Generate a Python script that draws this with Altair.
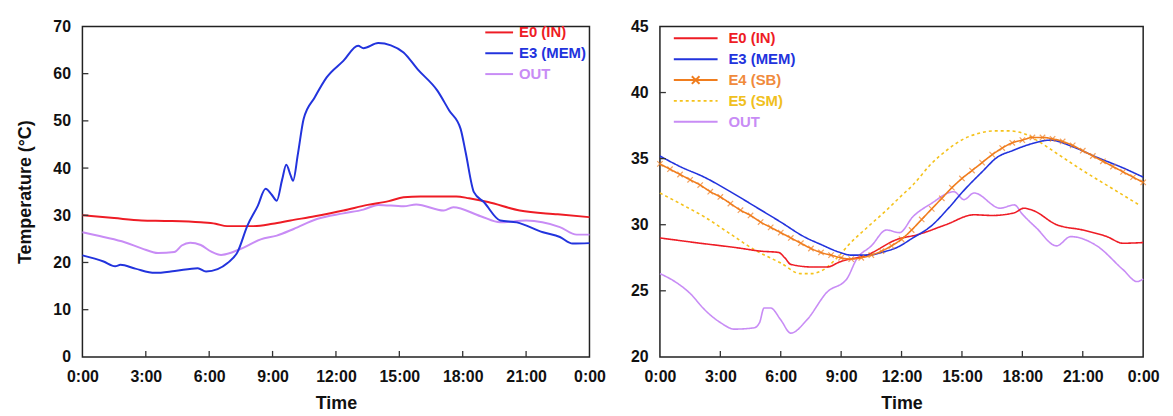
import altair as alt
import pandas as pd

FONT = "Liberation Sans"

# ---------------- left panel data (hours, temperature) ----------------
L_IN_H = [0, 1.5, 2.8, 4, 5.6, 6.3, 6.85, 8.1, 9, 9.85, 11, 12.35, 13.5, 14.5, 15.2, 16, 17.7, 18.3, 19.2, 20.7, 22.5, 24]
L_IN_T = [30.0, 29.4, 28.9, 28.8, 28.5, 28.2, 27.7, 27.7, 28.2, 28.9, 29.8, 31.0, 32.2, 33.0, 33.8, 34.0, 34.0, 33.6, 32.8, 31.0, 30.2, 29.6]

L_MEM_H = [0, 1, 1.55, 1.8, 2.5, 3.43, 4.37, 5.46, 5.85, 6.4, 6.87, 7.34, 7.81, 8.3, 8.67, 8.95, 9.2, 9.45, 9.65, 9.85,
           9.97, 10.2, 10.47, 11.0, 11.56, 12.35, 13.05, 13.3, 14.0, 14.6, 15.2, 15.87, 16.8, 17.36, 17.9, 18.14, 18.53,
           19.0, 19.78, 20.56, 21.8, 22.6, 23.2, 24]
L_MEM_T = [21.5, 20.2, 19.2, 19.5, 18.7, 17.8, 18.2, 18.8, 18.1, 18.6, 19.9, 22.2, 27.8, 32.0, 35.6, 34.4, 33.1, 37.5, 40.7, 38.5,
           37.3, 43.0, 50.4, 55.0, 59.2, 62.7, 65.9, 65.4, 66.5, 66.0, 64.5, 60.9, 56.4, 52.2, 48.3, 43.3, 34.9,
           32.8, 28.9, 28.5, 26.4, 25.4, 24.0, 24.1]

L_OUT_H = [0, 1, 2, 2.8, 3.58, 4.35, 4.7, 5.1, 5.6, 6.1, 6.56, 7.5, 8.44, 9.2, 10.0, 11.1, 12.35, 13.3, 14.0, 15.2, 15.8,
           17.1, 17.55, 18.85, 19.78, 21.0, 22.6, 23.4, 24]
L_OUT_T = [26.4, 25.4, 24.3, 23.0, 22.0, 22.2, 23.6, 24.2, 23.7, 22.3, 21.6, 22.9, 24.9, 25.7, 27.1, 29.2, 30.4, 31.2, 32.2, 31.9, 32.3,
           31.0, 31.7, 29.8, 28.5, 28.9, 27.5, 25.9, 25.9]

# ---------------- right panel data ----------------
R_IN_H = [0, 2, 3.86, 5, 5.9, 6.2, 6.5, 7.6, 8.3, 8.95, 10.27, 11.8, 12.8, 14.2, 15.6, 16.5, 17.6, 18.07, 18.5, 19.7, 21.0, 22.2, 23.0, 24]
R_IN_T = [29.0, 28.6, 28.25, 28.0, 27.9, 27.5, 27.0, 26.8, 26.8, 27.2, 27.7, 28.9, 29.25, 30.0, 30.75, 30.7, 30.9, 31.25, 31.1, 30.0, 29.6, 29.1, 28.6, 28.65]

R_MEM_H = [0, 1, 2.2, 3.5, 4.7, 6, 7.15, 8, 8.95, 9.5, 10.4, 11, 11.8, 12.56, 13.47, 14.3, 15.1, 16, 16.75, 17.5, 18.4, 19.4, 20.5, 21.7, 23, 24]
R_MEM_T = [35.2, 34.4, 33.6, 32.5, 31.4, 30.2, 29.1, 28.5, 27.9, 27.7, 27.7, 27.9, 28.3, 29.0, 29.9, 31.2, 32.6, 34.0, 35.1, 35.6, 36.1, 36.4, 35.9, 35.1, 34.3, 33.6]

R_SB_H = [0, 0.5, 1, 1.5, 2, 2.5, 3, 3.5, 4, 4.5, 5, 5.5, 6, 6.5, 7, 7.5, 8, 8.5, 9, 9.5, 10, 10.5, 11, 11.5, 12,
          12.5, 13, 13.5, 14, 14.5, 15, 15.5, 16, 16.5, 17, 17.5, 18, 18.5, 19, 19.5, 20, 20.5, 21, 21.5, 22, 22.5, 23, 23.5, 24]
R_SB_T = [34.6, 34.2, 33.8, 33.4, 33.0, 32.5, 32.1, 31.6, 31.1, 30.7, 30.2, 29.8, 29.4, 29.0, 28.6, 28.2, 27.9, 27.7, 27.5, 27.4,
          27.5, 27.7, 28.0, 28.4, 28.9, 29.6, 30.4, 31.2, 32.0, 32.8, 33.5, 34.1, 34.7, 35.3, 35.8, 36.2, 36.4, 36.6, 36.6,
          36.5, 36.3, 36.0, 35.6, 35.2, 34.8, 34.4, 34.0, 33.6, 33.2]

R_SM_H = [0, 1, 2.2, 3.5, 4.7, 6, 6.98, 7.5, 8.13, 8.8, 9.45, 10.3, 11.25, 12, 12.56, 13.47, 14.3, 15.1, 15.8, 16.6, 17.3,
          18.07, 18.7, 19.8, 21.0, 22.4, 23.8]
R_SM_T = [32.4, 31.6, 30.6, 29.3, 28.1, 27.1, 26.3, 26.3, 26.6, 27.5, 28.6, 29.8, 31.1, 32.2, 33.0, 34.6, 35.7, 36.5, 36.9, 37.1, 37.1,
          36.9, 36.4, 35.3, 34.1, 32.8, 31.5]

R_OUT_H = [0, 0.74, 1.5, 2.2, 3, 3.7, 4.68, 4.95, 5.17, 5.5, 6, 6.5, 7.3, 8.3, 9.28, 9.77, 10.5, 11.25, 11.9, 12.56, 13.47,
           14.6, 15.1, 15.6, 16.9, 17.6, 18.0, 18.7, 19.7, 20.4, 21.7, 23.0, 23.7, 24]
R_OUT_T = [26.3, 25.7, 24.8, 23.6, 22.6, 22.1, 22.2, 22.6, 23.7, 23.7, 22.8, 21.8, 22.8, 24.9, 25.9, 27.4, 28.4, 29.6, 29.4, 30.6, 31.6,
           32.5, 31.9, 32.4, 31.25, 31.5, 30.8, 29.75, 28.4, 29.1, 28.4, 26.6, 25.7, 25.9]

HOUR_TICKS = [0, 3, 6, 9, 12, 15, 18, 21, 24]
INNER_HOURS = [3, 6, 9, 12, 15, 18, 21]
L_Y_TICKS = [0, 10, 20, 30, 40, 50, 60, 70]
L_Y_INNER = [10, 20, 30, 40, 50, 60]
R_Y_TICKS = [20, 25, 30, 35, 40, 45]
R_Y_INNER = [25, 30, 35, 40]

L_NAMES = ["E0 (IN)", "E3 (MEM)", "OUT"]
L_COLORS = ["#ee1c25", "#2233dd", "#c88cf5"]
R_NAMES = ["E0 (IN)", "E3 (MEM)", "E4 (SB)", "E5 (SM)", "OUT"]
R_COLORS = ["#ee1c25", "#2233dd", "#f07d1e", "#f5c21b", "#c88cf5"]
R_LABEL_COLORS = ["#ee1c25", "#2233dd", "#f08a3c", "#f0c020", "#c88cf5"]
R_DASH = [[1, 0], [1, 0], [1, 0], [3, 3], [1, 0]]

W_L, W_R, H = 511, 487, 333


def long_df(field, parts):
    rows = []
    for name, hs, ts in parts:
        for h, t in zip(hs, ts):
            rows.append({"h": h, "T": t, field: name})
    return pd.DataFrame(rows)


left_df = long_df("s1", [("OUT", L_OUT_H, L_OUT_T), ("E0 (IN)", L_IN_H, L_IN_T), ("E3 (MEM)", L_MEM_H, L_MEM_T)])
right_df = long_df("s2", [("OUT", R_OUT_H, R_OUT_T), ("E5 (SM)", R_SM_H, R_SM_T), ("E0 (IN)", R_IN_H, R_IN_T),
                          ("E3 (MEM)", R_MEM_H, R_MEM_T), ("E4 (SB)", R_SB_H, R_SB_T)])
sb_df = pd.DataFrame({"h": R_SB_H, "T": R_SB_T})


def color_expr(names, colors):
    expr = "'" + colors[-1] + "'"
    for n, c in reversed(list(zip(names[:-1], colors[:-1]))):
        expr = "datum.value == '" + n + "' ? '" + c + "' : " + expr
    return expr


X_AXIS = alt.Axis(values=HOUR_TICKS, labelExpr="(datum.value % 24) + ':00'", ticks=False, domain=False,
                  grid=False, title="Time", labelPadding=12, titlePadding=10, labelFlush=False,
                  labelOverlap=False)
L_Y_AXIS = alt.Axis(values=L_Y_TICKS, ticks=False, domain=False, grid=False, title="Temperature (°C)",
                    labelPadding=12, titlePadding=19)
R_Y_AXIS = alt.Axis(values=R_Y_TICKS, ticks=False, domain=False, grid=False, title=None, labelPadding=12)

X_SCALE = alt.Scale(domain=[0, 24], nice=False)
L_Y_SCALE = alt.Scale(domain=[0, 70], nice=False)
R_Y_SCALE = alt.Scale(domain=[20, 45], nice=False)


def tick_layers(inner_h, inner_y, yscale, yaxis):
    xt = alt.Chart(pd.DataFrame({"h": inner_h})).mark_rule(color="#333", strokeWidth=1.3).encode(
        x=alt.X("h:Q", scale=X_SCALE, axis=X_AXIS), y=alt.value(H), y2=alt.value(H - 6))
    yt = alt.Chart(pd.DataFrame({"T": inner_y})).mark_rule(color="#333", strokeWidth=1.3).encode(
        y=alt.Y("T:Q", scale=yscale, axis=yaxis), x=alt.value(0), x2=alt.value(6))
    return xt, yt


# legend symbol paths: row height stays small, line extends to the right
L_SYM = "M-1,0L3,0"
R_SYM = "M-1,0L5.3,0"
R_SB_SYM = "M-1,0L5.3,0M1.6,-0.55L2.7,0.55M1.6,0.55L2.7,-0.55"
X_MARK = "M-1,-1L1,1M-1,1L1,-1"

# ---------------- left chart ----------------
left_lines = alt.Chart(left_df).mark_line(strokeWidth=2, interpolate="monotone").encode(
    x=alt.X("h:Q", scale=X_SCALE, axis=X_AXIS),
    y=alt.Y("T:Q", scale=L_Y_SCALE, axis=L_Y_AXIS),
    color=alt.Color("s1:N", scale=alt.Scale(domain=L_NAMES, range=L_COLORS),
                    legend=alt.Legend(title=None, orient="none", legendX=405, legendY=-2, padding=0, symbolType=L_SYM,
                                      symbolSize=196, symbolStrokeWidth=2, labelFont=FONT, labelFontWeight="bold",
                                      labelFontSize=15, labelOffset=19, rowPadding=5,
                                      labelColor={"expr": color_expr(L_NAMES, L_COLORS)})),
)
lxt, lyt = tick_layers(INNER_HOURS, L_Y_INNER, L_Y_SCALE, L_Y_AXIS)
left = alt.layer(left_lines, lxt, lyt).properties(width=W_L, height=H)

# ---------------- right chart ----------------
right_lines = alt.Chart(right_df).mark_line(strokeWidth=1.6, interpolate="monotone").encode(
    x=alt.X("h:Q", scale=X_SCALE, axis=X_AXIS),
    y=alt.Y("T:Q", scale=R_Y_SCALE, axis=R_Y_AXIS),
    color=alt.Color("s2:N", scale=alt.Scale(domain=R_NAMES, range=R_COLORS),
                    legend=alt.Legend(title=None, orient="none", legendX=13, legendY=4, padding=0,
                                      symbolType={"expr": "datum.value == 'E4 (SB)' ? '" + R_SB_SYM + "' : '" + R_SYM + "'"},
                                      symbolSize=196, symbolStrokeWidth=2, labelFont=FONT, labelFontWeight="bold",
                                      labelFontSize=15, labelOffset=40, rowPadding=5,
                                      labelColor={"expr": color_expr(R_NAMES, R_LABEL_COLORS)})),
    strokeDash=alt.StrokeDash("s2:N", scale=alt.Scale(domain=R_NAMES, range=R_DASH), legend=None),
)
sb_marks = alt.Chart(sb_df).mark_point(shape=X_MARK, filled=False, size=30, strokeWidth=1.2, color="#f07d1e").encode(
    x=alt.X("h:Q", scale=X_SCALE, axis=X_AXIS), y=alt.Y("T:Q", scale=R_Y_SCALE, axis=R_Y_AXIS))
rxt, ryt = tick_layers(INNER_HOURS, R_Y_INNER, R_Y_SCALE, R_Y_AXIS)
right = alt.layer(right_lines, sb_marks, rxt, ryt).properties(width=W_R, height=H)

chart = alt.hconcat(left, right, spacing=23).resolve_scale(
    x="independent", y="independent", color="independent", strokeDash="independent"
).properties(
    padding={"left": 7, "right": 5, "top": 8, "bottom": 5}
).configure_view(stroke="#222", strokeWidth=1.5).configure_axis(
    labelFont=FONT, labelFontSize=16, labelFontWeight="bold", labelColor="#111",
    titleFont=FONT, titleFontSize=18, titleFontWeight="bold", titleColor="#111"
)

chart.save("out.html", embed_options={"renderer": "svg", "actions": False})
